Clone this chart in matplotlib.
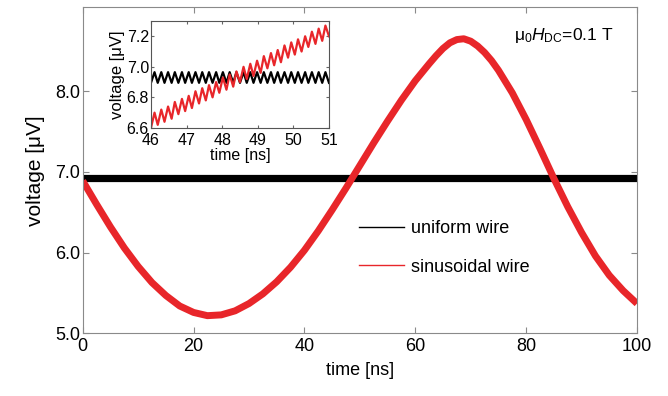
import numpy as np
import matplotlib
matplotlib.use("Agg")
import matplotlib.pyplot as plt

plt.rcParams['font.family'] = ['Liberation Sans', 'DejaVu Sans']
plt.rcParams['mathtext.fontset'] = 'custom'
plt.rcParams['mathtext.rm'] = 'Liberation Sans'
plt.rcParams['mathtext.it'] = 'Liberation Sans:italic'

# main panel, slow envelope (ns, uV)
t_main = [0, 2.5, 5, 7.5, 10, 12.5, 15, 17.5, 20, 22.5, 25, 27.5, 30, 32.5, 35,
          37.5, 40, 42.5, 45, 47.5, 50, 52.5, 55, 57.5, 60, 62.5, 63.75, 65,
          66.25, 67.5, 68.75, 70, 71.25, 72.5, 73.75, 75, 77.5, 80, 82.5, 85,
          87.5, 90, 92.5, 95, 97.5, 100]
sin_main = [6.89, 6.60, 6.32, 6.06, 5.83, 5.63, 5.47, 5.34, 5.26, 5.22, 5.23,
            5.28, 5.37, 5.49, 5.64, 5.82, 6.03, 6.27, 6.53, 6.80, 7.08, 7.36,
            7.63, 7.89, 8.13, 8.34, 8.44, 8.53, 8.60, 8.64, 8.65, 8.62, 8.56,
            8.48, 8.38, 8.26, 7.98, 7.65, 7.29, 6.92, 6.57, 6.25, 5.96, 5.72,
            5.53, 5.37]
t_uni = [0, 100]
uni_main = [6.93, 6.93]

# inset, extrema of the fast oscillation
t_ins = [46.00, 46.10, 46.19, 46.29, 46.38, 46.48, 46.58, 46.67, 46.77, 46.87,
         46.96, 47.06, 47.15, 47.25, 47.35, 47.44, 47.54, 47.63, 47.73, 47.83,
         47.92, 48.02, 48.12, 48.21, 48.31, 48.40, 48.50, 48.60, 48.69, 48.79,
         48.88, 48.98, 49.08, 49.17, 49.27, 49.37, 49.46, 49.56, 49.65, 49.75,
         49.85, 49.94, 50.04, 50.13, 50.23, 50.33, 50.42, 50.52, 50.62, 50.71,
         50.81, 50.90, 51.00]
uni_ins = [6.895, 6.965] * 26 + [6.895]
sin_ins = [6.60, 6.70, 6.62, 6.72, 6.64, 6.74, 6.66, 6.77, 6.69, 6.79,
           6.71, 6.81, 6.73, 6.84, 6.76, 6.86, 6.78, 6.88, 6.80, 6.90,
           6.83, 6.93, 6.85, 6.95, 6.87, 6.97, 6.90, 7.00, 6.92, 7.02,
           6.94, 7.04, 6.96, 7.07, 6.99, 7.09, 7.01, 7.11, 7.03, 7.14,
           7.06, 7.16, 7.08, 7.18, 7.10, 7.20, 7.13, 7.23, 7.15, 7.25,
           7.17, 7.27, 7.20]

red = '#e8262a'
spine_c = '#8a8a8a'

fig = plt.figure(figsize=(6.68, 3.96), dpi=100)
ax = fig.add_axes([0.1238, 0.158, 0.8298, 0.8236])
ax.plot(t_uni, uni_main, color='k', lw=5.2, solid_capstyle='butt')
ax.plot(t_main, sin_main, color=red, lw=5, solid_capstyle='butt',
        solid_joinstyle='round')
ax.set_xlim(0, 100)
ax.set_ylim(5, 9.04)
ax.set_xticks([0, 20, 40, 60, 80, 100])
ax.set_yticks([5, 6, 7, 8])
ax.set_yticklabels(['5.0', '6.0', '7.0', '8.0'])
ax.tick_params(direction='in', top=True, right=True, labelsize=13,
               length=4, color=spine_c, pad=2)
ax.tick_params(axis='x', pad=3)
for s in ax.spines.values():
    s.set_color(spine_c)
ax.set_xlabel('time [ns]', fontsize=13, labelpad=5)
ax.set_ylabel('voltage [μV]', fontsize=15, labelpad=7)

# legend handles only
l1, = ax.plot([], [], color='k', lw=1)
l2, = ax.plot([], [], color=red, lw=1)
ax.legend([l1, l2], ['uniform wire', 'sinusoidal wire'], loc='center left',
          bbox_to_anchor=(0.498, 0.262), frameon=False, fontsize=13,
          handlelength=2.5, labelspacing=1.2, borderpad=0, borderaxespad=0,
          handletextpad=0.4)

ax.text(0.958, 0.912, 'μ$_0$$H_{\\mathrm{DC}}$=0.1 T', transform=ax.transAxes,
        ha='right', va='center', fontsize=12.5)

ins = fig.add_axes([0.226, 0.677, 0.2665, 0.270])
ins.plot(t_ins, uni_ins, color='k', lw=1.6)
ins.plot(t_ins, sin_ins, color=red, lw=1.6)
ins.set_xlim(46, 51)
ins.set_ylim(6.6, 7.3)
ins.set_yticks([6.6, 6.8, 7.0, 7.2])
ins.set_xticks([46, 47, 48, 49, 50, 51])
ins.tick_params(direction='in', top=True, right=True, labelsize=11.5,
                length=2.5, color='#666666', pad=1.5)
ins.tick_params(axis='x', pad=4)
for s in ins.spines.values():
    s.set_color('#555555')
ins.set_xlabel('time [ns]', fontsize=11.5, labelpad=0)
ins.set_ylabel('voltage [μV]', fontsize=12, labelpad=1)

fig.savefig('out.png', dpi=100)
